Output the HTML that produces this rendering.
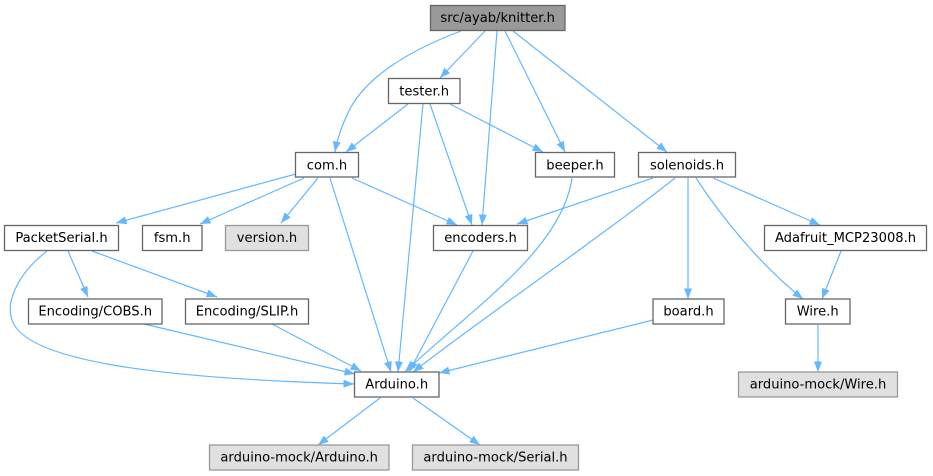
<!DOCTYPE html>
<html><head><meta charset="utf-8"><style>
html,body{margin:0;padding:0;background:#fff;}
svg{display:block;}
text{font-family:"DejaVu Sans","Liberation Sans",sans-serif;font-size:13.1px;fill:#000;text-anchor:middle;}
.n{fill:#fff;stroke:#666;stroke-width:1.3;}
.g{fill:#e0e0e0;stroke:#999;stroke-width:1.3;}
.k{fill:#999;stroke:#666;stroke-width:1.3;}
.e{fill:none;stroke:#63b8ff;stroke-width:1.2;marker-end:url(#a);}
</style></head><body>
<svg width="933" height="476" viewBox="0 0 933 476" xmlns="http://www.w3.org/2000/svg">
<defs>
<marker id="a" markerUnits="userSpaceOnUse" markerWidth="11" markerHeight="9" refX="10.5" refY="4" orient="auto">
<path d="M0,0 L10.5,4 L0,8 z" fill="#63b8ff"/>
</marker>
</defs>
<!-- edges -->
<path class="e" d="M461,31 C405,52 362,80 347,115 C341,128 337,140 335,152"/>
<path class="e" d="M485,31 L440,78"/>
<path class="e" d="M497,31 L482,225"/>
<path class="e" d="M505,31 L565,152"/>
<path class="e" d="M513,31 L667,152"/>
<path class="e" d="M408,104 L346,152"/>
<path class="e" d="M423,104 L398,372"/>
<path class="e" d="M430,104 L472,225"/>
<path class="e" d="M450,104 L543,152"/>
<path class="e" d="M296,174 L116,223"/>
<path class="e" d="M304,178 L200,224"/>
<path class="e" d="M318,178 L281,223"/>
<path class="e" d="M330,178 L391,372"/>
<path class="e" d="M352,178 L457,225"/>
<path class="e" d="M572,178 C562,250 470,310 405,372"/>
<path class="e" d="M653,178 L517,224"/>
<path class="e" d="M675,178 C610,230 480,320 413,372"/>
<path class="e" d="M688,178 L688,299"/>
<path class="e" d="M696,178 C720,215 760,265 803,299"/>
<path class="e" d="M713,178 L820,225"/>
<path class="e" d="M841,251 L822,299"/>
<path class="e" d="M818,325 L818,372"/>
<path class="e" d="M68,251 L88,297"/>
<path class="e" d="M92,251 L217,297"/>
<path class="e" d="M47,251 C20,272 5,300 12,320 C25,360 150,378 354,384"/>
<path class="e" d="M144,324 L355,374"/>
<path class="e" d="M272,324 L361,371"/>
<path class="e" d="M473,251 L409,372"/>
<path class="e" d="M653,320 L439,373"/>
<path class="e" d="M380,398 L318,445"/>
<path class="e" d="M413,398 L480,445"/>
<!-- nodes -->
<rect class="k" x="430.5" y="5.5" width="134.5" height="25"/><text x="497.7" y="22">src/ayab/knitter.h</text>
<rect class="n" x="388.5" y="78.5" width="71.5" height="25"/><text x="424.2" y="95.5">tester.h</text>
<rect class="n" x="295.5" y="152.5" width="63" height="24.5"/><text x="327" y="169.3">com.h</text>
<rect class="n" x="535.5" y="152.5" width="79" height="24.5"/><text x="575" y="169.3">beeper.h</text>
<rect class="n" x="638.5" y="152.5" width="97" height="24.5"/><text x="687" y="169.3">solenoids.h</text>
<rect class="n" x="4.5" y="225.5" width="114" height="25"/><text x="61.5" y="242">PacketSerial.h</text>
<rect class="n" x="142.5" y="225.5" width="59.5" height="25"/><text x="172.2" y="242">fsm.h</text>
<rect class="g" x="225.5" y="225.5" width="83" height="25"/><text x="267" y="242">version.h</text>
<rect class="n" x="433.5" y="225.5" width="94" height="25"/><text x="480.5" y="242">encoders.h</text>
<rect class="n" x="764.5" y="225.5" width="162" height="25"/><text x="845.5" y="242">Adafruit_MCP23008.h</text>
<rect class="n" x="28.5" y="299" width="133.5" height="25"/><text x="95.2" y="315.5">Encoding/COBS.h</text>
<rect class="n" x="185.5" y="299" width="123" height="25"/><text x="247" y="315.5">Encoding/SLIP.h</text>
<rect class="n" x="653" y="299" width="71" height="25"/><text x="688.5" y="315.5">board.h</text>
<rect class="n" x="785.5" y="299" width="64.5" height="25"/><text x="817.7" y="315.5">Wire.h</text>
<rect class="n" x="354.5" y="372" width="84.5" height="25"/><text x="396.7" y="388.5">Arduino.h</text>
<rect class="g" x="738.5" y="372" width="159" height="25"/><text x="818" y="388.5">arduino-mock/Wire.h</text>
<rect class="g" x="209.5" y="445" width="179.5" height="25"/><text x="299.2" y="461.5">arduino-mock/Arduino.h</text>
<rect class="g" x="412.5" y="445" width="166" height="25"/><text x="495.5" y="461.5">arduino-mock/Serial.h</text>
</svg>
</body></html>
